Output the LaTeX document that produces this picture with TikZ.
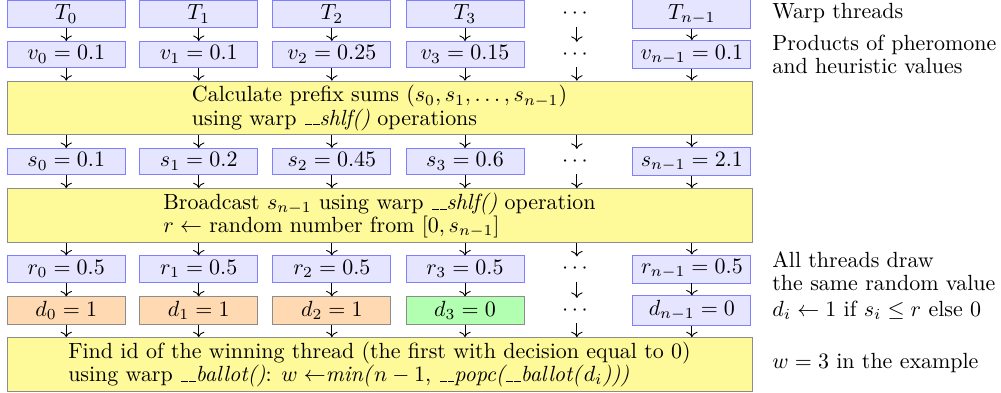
\documentclass[tikz,border=0pt]{standalone}
\usepackage{amsmath}
\usepackage{amssymb}
\usetikzlibrary{arrows.meta}

\newcommand{\usc}{\leavevmode\kern.06em\vbox{\hrule width.3em}}

\begin{document}
\begin{tikzpicture}[>=To,
    val/.style={draw=blue!50, fill=blue!10, minimum width=1.888cm, inner sep=2pt},
    dec/.style={draw=black!45, minimum width=1.888cm, inner sep=2pt},
    op/.style={draw=black!45, fill=yellow!40, minimum width=11.92cm, minimum height=0.85cm, inner sep=2pt, align=left},
    note/.style={anchor=west, inner sep=0pt, align=left}]

    \useasboundingbox (0,0) rectangle (16.016,-6.288);

    \node[val] (t0) at (1.06,-0.225) {$T_0$};
    \node[val] (t1) at (3.18,-0.225) {$T_1$};
    \node[val] (t2) at (5.31,-0.225) {$T_2$};
    \node[val] (t3) at (7.44,-0.225) {$T_3$};
    \node      (td) at (9.23,-0.225) {$\cdots$};
    \node[val] (tn) at (11.07,-0.225) {$T_{n-1}$};

    \node[val] (v0) at (1.06,-0.872) {$v_0 = 0.1$};
    \node[val] (v1) at (3.18,-0.872) {$v_1 = 0.1$};
    \node[val] (v2) at (5.31,-0.872) {$v_2 = 0.25$};
    \node[val] (v3) at (7.44,-0.872) {$v_3 = 0.15$};
    \node      (vd) at (9.23,-0.872) {$\cdots$};
    \node[val] (vn) at (11.07,-0.872) {$v_{n-1} = 0.1$};

    \node[op] (prefix) at (6.072,-1.728)
        {Calculate prefix sums $(s_0, s_1, \ldots, s_{n-1})$\\[-1.5pt]
         using warp \textit{\usc\usc shlf()} operations};

    \node[val] (s0) at (1.06,-2.584) {$s_0 = 0.1$};
    \node[val] (s1) at (3.18,-2.584) {$s_1 = 0.2$};
    \node[val] (s2) at (5.31,-2.584) {$s_2 = 0.45$};
    \node[val] (s3) at (7.44,-2.584) {$s_3 = 0.6$};
    \node      (sd) at (9.23,-2.584) {$\cdots$};
    \node[val] (sn) at (11.07,-2.584) {$s_{n-1} = 2.1$};

    \node[op] (bcast) at (6.072,-3.448)
        {Broadcast $s_{n-1}$ using warp \textit{\usc\usc shlf()} operation\\[-1.5pt]
         $r \leftarrow$ random number from $[0, s_{n-1}]$};

    \node[val] (r0) at (1.06,-4.304) {$r_0 = 0.5$};
    \node[val] (r1) at (3.18,-4.304) {$r_1 = 0.5$};
    \node[val] (r2) at (5.31,-4.304) {$r_2 = 0.5$};
    \node[val] (r3) at (7.44,-4.304) {$r_3 = 0.5$};
    \node      (rd) at (9.23,-4.304) {$\cdots$};
    \node[val] (rn) at (11.07,-4.304) {$r_{n-1} = 0.5$};

    \node[dec, fill=orange!30] (d0) at (1.06,-4.968) {$d_0 = 1$};
    \node[dec, fill=orange!30] (d1) at (3.18,-4.968) {$d_1 = 1$};
    \node[dec, fill=orange!30] (d2) at (5.31,-4.968) {$d_2 = 1$};
    \node[dec, fill=green!30]  (d3) at (7.44,-4.968) {$d_3 = 0$};
    \node                      (dd) at (9.23,-4.968) {$\cdots$};
    \node[val]                 (dn) at (11.07,-4.968) {$d_{n-1} = 0$};

    \node[op] (find) at (6.072,-5.832)
        {Find id of the winning thread (the first with decision equal to 0)\\[-1.5pt]
         using warp \textit{\usc\usc ballot()}: $w \leftarrow$\textit{min(}$n-1$, \textit{\usc\usc popc(\usc\usc ballot(}$d_i$\textit{)))}};

    \foreach \c in {0,1,2,3,d,n} {
        \draw[->] (t\c) -- (v\c);
        \draw[->] (v\c) -- (v\c |- prefix.north);
        \draw[->] (prefix.south -| s\c) -- (s\c);
        \draw[->] (s\c) -- (s\c |- bcast.north);
        \draw[->] (bcast.south -| r\c) -- (r\c);
        \draw[->] (r\c) -- (d\c);
        \draw[->] (d\c) -- (d\c |- find.north);
    }

    \node[note] (nt) at (12.352,-0.208) {Warp threads};
    \node[note] (nv) at (12.352,-0.864) {Products of pheromone\\[-1.5pt]and heuristic values};
    \node[note] (nr) at (12.352,-4.336) {All threads draw\\[-1.5pt]the same random value};
    \node[note] (nd) at (12.352,-4.96) {$d_i \leftarrow 1$ if $s_i \leq r$ else $0$};
    \node[note] (nw) at (12.352,-5.808) {$w = 3$ in the example};

\end{tikzpicture}
\end{document}
